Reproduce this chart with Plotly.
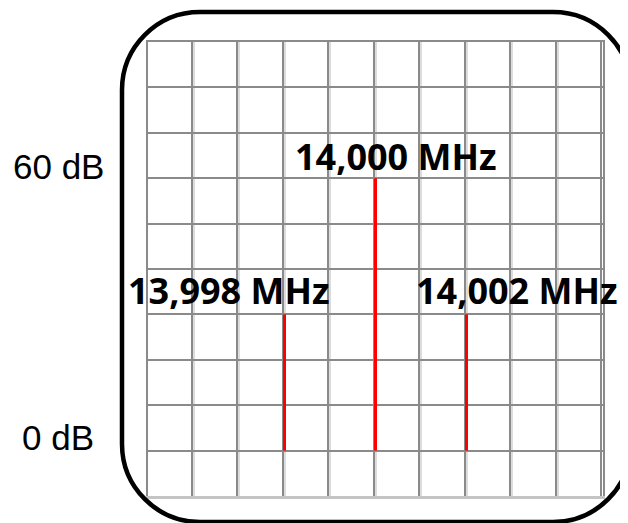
import plotly.graph_objects as go

# ---- data ----
peak_freq_mhz = [13998, 14000, 14002]
peak_level_db = [30, 60, 30]
peak_labels = ["13,998 MHz", "14,000 MHz", "14,002 MHz"]
level_marks_db = [60, 0]
level_labels = ["60 dB", "0 dB"]
freq_range_mhz = [13995, 14005]
level_range_db = [-10, 90]

# ---- layout geometry (pixels, in figure coordinates) ----
W, H = 628, 523
OFF = 8  # page body margin
L, T = 148 - OFF, 42 - OFF
R = W - (603 - OFF)
B = H - (496 - OFF)
PW, PH = W - L - R, H - T - B


def px(xp):
    return (xp - OFF - L) / PW


def py(yp):
    return (H - B - (yp - OFF)) / PH


# build the spectrum trace (vertical lines from 0 dB to each level)
xs, ys = [], []
for f, lv in zip(peak_freq_mhz, peak_level_db):
    xs += [f, f, None]
    ys += [0, lv, None]

fig = go.Figure()
fig.add_trace(go.Scatter(x=xs, y=ys, mode="lines",
                         line=dict(color="#ff0000", width=3),
                         hoverinfo="skip", showlegend=False))
# empty trace to anchor the overlay grid axis
fig.add_trace(go.Scatter(x=[], y=[], xaxis="x2", showlegend=False))

step = 1
shift = 2 / (PW / 10)  # dark grid lines 2px left of light ones
DARK = "#8a8a8a"
LIGHT = "#dcdcdc"

fig.update_layout(
    width=W, height=H,
    margin=dict(l=L, r=R, t=T, b=B, pad=0),
    paper_bgcolor="white", plot_bgcolor="white",
    showlegend=False,
    xaxis=dict(range=freq_range_mhz, dtick=step, tick0=freq_range_mhz[0],
               showgrid=True, gridcolor=LIGHT, gridwidth=2,
               showticklabels=False, ticks="", zeroline=False,
               showline=True, linecolor="#c4c4c4", linewidth=3, mirror=False),
    xaxis2=dict(range=[freq_range_mhz[0] + shift, freq_range_mhz[1] + shift],
                overlaying="x", side="top", dtick=step, tick0=freq_range_mhz[0],
                showgrid=True, gridcolor=DARK, gridwidth=2,
                showticklabels=False, ticks="", zeroline=False,
                showline=True, linecolor=DARK, linewidth=2),
    yaxis=dict(range=level_range_db, dtick=10, tick0=level_range_db[0],
               showgrid=True, gridcolor=DARK, gridwidth=2,
               showticklabels=False, ticks="", zeroline=False,
               showline=True, linecolor=DARK, linewidth=2, mirror=True),
)

# peak labels
xshifts = [-56, 20, 50]
yshifts = [24, 22, 24]
for f, lv, txt, xs_, ys_ in zip(peak_freq_mhz, peak_level_db, peak_labels, xshifts, yshifts):
    fig.add_annotation(x=f, y=lv, xref="x", yref="y", text="<b>" + txt + "</b>",
                       showarrow=False, xanchor="center", yanchor="middle",
                       xshift=xs_, yshift=ys_,
                       font=dict(family="Open Sans", size=36, color="black"))

# level labels
for lv, txt, ysh in zip(level_marks_db, level_labels, [12, 13]):
    fig.add_annotation(x=px(58), y=lv, xref="paper", yref="y", text=txt,
                       showarrow=False, xanchor="center", yanchor="middle",
                       yshift=ysh,
                       font=dict(family="Liberation Sans", size=35, color="black"))

# rounded frame
x0, x1, y0, y1, r = 122, 631, 12, 522, 78
k = 0.5523 * r
pts = [
    ("M", [(x0 + r, y0)]),
    ("L", [(x1 - r, y0)]),
    ("C", [(x1 - r + k, y0), (x1, y0 + r - k), (x1, y0 + r)]),
    ("L", [(x1, y1 - r)]),
    ("C", [(x1, y1 - r + k), (x1 - r + k, y1), (x1 - r, y1)]),
    ("L", [(x0 + r, y1)]),
    ("C", [(x0 + r - k, y1), (x0, y1 - r + k), (x0, y1 - r)]),
    ("L", [(x0, y0 + r)]),
    ("C", [(x0, y0 + r - k), (x0 + r - k, y0), (x0 + r, y0)]),
]
path = ""
for cmd, ps in pts:
    path += cmd + " ".join(f"{px(a):.5f},{py(b):.5f}" for a, b in ps) + " "
path += "Z"
fig.add_shape(type="path", path=path, xref="paper", yref="paper",
              line=dict(color="black", width=4.5), layer="above")

fig.write_html("out.html")
